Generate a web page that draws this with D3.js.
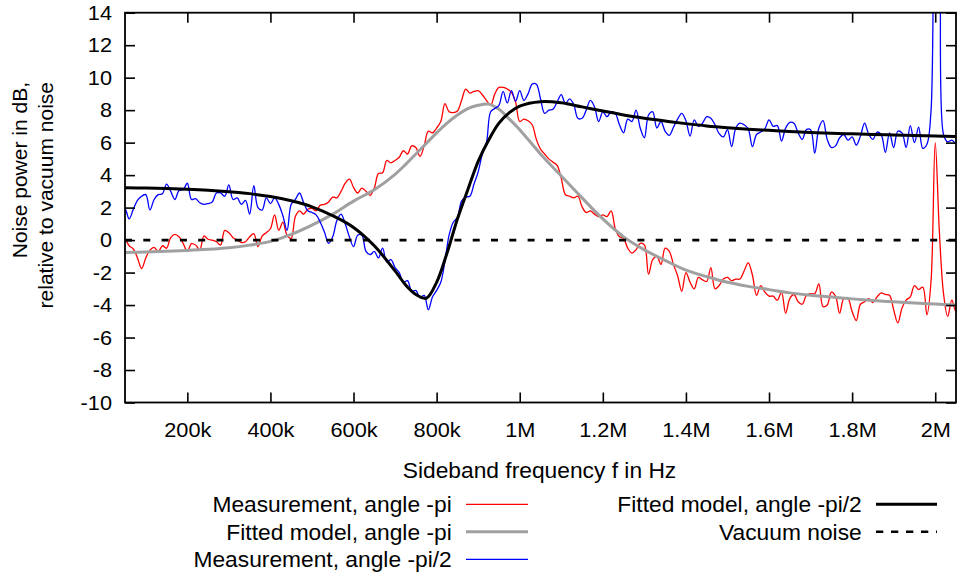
<!DOCTYPE html>
<html>
<head>
<meta charset="utf-8">
<script src="https://cdn.jsdelivr.net/npm/d3@7"></script>
<style>
  html, body { margin: 0; padding: 0; background: #fff; }
  svg { display: block; }
  text { font-family: "Liberation Sans", Arial, Helvetica, sans-serif; fill: #000; }
</style>
</head>
<body>
<svg id="chart" width="957" height="575"></svg>
<script>
// ---- Data -------------------------------------------------------------
// Measured traces are sampled on a uniform grid (kHz): 40k, 50k, ... 2060k
const measStartKHz = 40;
const measStepKHz = 10;

// Noise power (dB rel. vacuum), quadrature angle -pi
const redMeasured = [
  0.3, 0.1, -0.35, -0.55, -1.1, -1.75, -1.1, -0.62, -0.45, -0.72,
  -0.35, -0.5, 0.15, 0.35, 0.2, -0.2, -0.7, -0.22, -0.3, -0.6,
  0.25, 0.05, 0, -0.1, -0.3, 0.6, 0.45, 0.15, 0, -0.15,
  -0.1, 0.2, 0.4, -0.4, 0.25, 0.45, 0.7, 1.55, 0.6, 1.1,
  0.3, 0.1, 1.45, 1.8, 1.6, 1.9, 1.95, 1.8, 2.15, 2.2,
  2.35, 2.65, 2.6, 3.0, 3.5, 3.75, 3.25, 2.9, 3.2, 3.0,
  2.75, 3.2, 4.1, 4.15, 4.9, 4.75, 4.9, 5.1, 5.5, 5.3,
  5.8, 5.7, 5.15, 5.8, 6.7, 6.6, 6.9, 7.3, 8.4, 7.9,
  7.85, 7.95, 8.6, 9.3, 9.05, 9.15, 9.2, 8.95, 8.6, 8.3,
  9.0, 9.4, 9.4, 9.3, 9.1, 8.5, 7.3, 7.45, 7.35, 7.1,
  6.2, 5.6, 5.3, 5.0, 4.8, 4.6, 3.8, 2.8, 2.7, 2.6,
  2.7, 2.05, 1.7, 1.8, 1.6, 1.45, 1.55, 1.45, 1.8, 0.7,
  0.2, 0.1, -0.5, -0.8, -0.6, -0.2, -0.3, -2.1, -1.2, -1.0,
  -1.5, -0.5, -0.7, -1.5, -2.2, -3.15, -2.0, -2.6, -3.0, -2.3,
  -2.45, -2.55, -1.7, -3.0, -2.8, -2.4, -2.3, -2.5, -2.4, -2.4,
  -1.9, -1.4, -2.15, -3.4, -2.8, -3.2, -3.45, -3.45, -3.7, -3.2,
  -4.5, -3.6, -3.35, -3.8, -3.95, -3.4, -3.3, -3.3, -2.7, -4.1,
  -4.0, -3.2, -3.45, -4.5, -3.6, -3.6, -4.4, -4.95, -3.95, -3.8,
  -3.6, -3.85, -3.5, -3.25, -3.35, -3.4, -4.3, -5.1, -4.2, -3.7,
  -3.5, -2.8, -3.05, -2.9, -4.6, -2.5, 6.0, 0.5, -3.3, -4.7,
  -3.7, -4.4, -4.2
];

// Noise power (dB rel. vacuum), quadrature angle -pi/2
const blueMeasured = [
  1.7, 1.9, 1.3, 1.9, 2.45, 2.7, 2.8, 1.85, 2.5, 2.8,
  2.85, 3.45, 3.0, 2.5, 3.05, 3.1, 3.5, 2.5, 2.55, 2.3,
  2.2, 2.25, 2.35, 2.9, 2.9, 2.7, 3.4, 2.5, 2.6, 2.2,
  2.45, 1.6, 3.35, 2.0, 1.85, 2.6, 2.25, 2.6, 2.2, 1.5,
  0.6, 2.2, 2.5, 2.9, 2.3, 1.8, 1.7, 1.55, 1.1, 0.5,
  -0.2, 0.2, 1.2, 1.6, 1.0, 0.2, -0.4, 0.3, 0.3, -0.7,
  -0.9, -0.7, -1.1, -0.5, -1.35, -1.2, -1.7, -2.0, -2.6, -2.5,
  -3.15, -3.1, -3.55, -3.4, -4.3, -3.5, -3.1, -2.6, -1.3, 0.3,
  1.1, 1.4, 2.4, 2.65, 2.7, 3.45, 4.2, 5.3, 6.0, 7.9,
  8.1, 8.3, 9.15, 8.45, 9.2, 8.55, 9.2, 8.6, 9.0, 9.6,
  9.6, 8.7, 7.8, 8.0, 8.05, 8.5, 8.95, 8.4, 8.7, 8.35,
  7.5, 7.5, 8.0, 8.6, 8.2, 7.3, 7.9, 7.6, 7.9, 7.8,
  7.1, 6.6, 7.45, 7.3, 8.0, 6.9, 6.3, 7.7, 7.9, 6.9,
  7.3, 6.7, 6.45, 6.95, 7.45, 7.8, 7.35, 6.4, 7.4, 7.0,
  7.2, 7.6, 7.5, 7.1, 6.55, 6.35, 6.8, 5.75, 6.9, 7.2,
  7.1, 6.85, 5.75, 6.5, 6.65, 6.85, 7.4, 7.0, 7.05, 6.1,
  6.9, 7.25, 7.2, 6.6, 6.2, 6.8, 6.8, 5.35, 6.9, 7.35,
  6.2, 5.7, 5.8, 6.3, 6.5, 6.15, 6.35, 5.85, 6.4, 7.2,
  6.5, 6.2, 6.65, 6.5, 5.4, 6.6, 5.7, 6.7, 6.6, 5.7,
  7.05, 6.0, 6.95, 5.65, 5.9, 8.0, 20, 18, 6.5, 6.05,
  6.15, 5.95, 6.0
];

// Fitted model curves, sampled at these frequencies (kHz)
const fitFreqsKHz = [
  50, 100, 150, 200, 250, 300, 350, 400, 450, 500, 550, 600, 650, 700,
  725, 750, 775, 800, 825, 850, 875, 900, 925, 950, 975, 1000,
  1050, 1100, 1150, 1200, 1250, 1300, 1350, 1400, 1450, 1500, 1550,
  1600, 1650, 1700, 1750, 1800, 1850, 1900, 1950, 2000, 2050
];
const grayFit = [
  -0.76, -0.73, -0.69, -0.64, -0.57, -0.47, -0.31, -0.08, 0.35, 0.92, 1.6, 2.4, 3.1, 4.05,
  4.65, 5.3, 5.95, 6.6, 7.2, 7.7, 8.1, 8.3, 8.37, 8.05, 7.45, 6.8,
  5.3, 3.95, 2.6, 1.3, 0.2, -0.6, -1.25, -1.85, -2.25, -2.6, -2.85,
  -3.05, -3.25, -3.4, -3.5, -3.62, -3.72, -3.8, -3.88, -3.94, -4.0
];
const blackFit = [
  3.22, 3.2, 3.17, 3.13, 3.07, 2.98, 2.86, 2.68, 2.42, 2.05, 1.5, 0.78, -0.35, -1.9,
  -2.75, -3.35, -3.58, -2.6, -0.8, 1.3, 3.1, 4.85, 6.15, 7.2, 7.85, 8.25,
  8.52, 8.45, 8.2, 7.95, 7.7, 7.5, 7.33, 7.17, 7.03, 6.92, 6.83,
  6.76, 6.69, 6.63, 6.58, 6.54, 6.5, 6.47, 6.44, 6.41, 6.38
];

const xTickValues = [200e3, 400e3, 600e3, 800e3, 1e6, 1.2e6, 1.4e6, 1.6e6, 1.8e6, 2e6];
const yTickValues = [-10, -8, -6, -4, -2, 0, 2, 4, 6, 8, 10, 12, 14];
const xDomainHz = [50e3, 2050e3];
const yDomainDb = [-10, 14];

const legendLabels = [
  "Measurement, angle -pi",
  "Fitted model, angle -pi",
  "Measurement, angle -pi/2",
  "Fitted model, angle -pi/2",
  "Vacuum noise"
];
const xTitle = "Sideband frequency f in Hz";
const yTitleLines = ["Noise power in dB,", "relative to vacuum noise"];

// ---- Layout -----------------------------------------------------------
const plot = { left: 125, right: 956, top: 12.7, bottom: 402.5 };
const SX = 1.06;           // slight horizontal stretch of the lettering
const tickFont = 20.5, labelFont = 21.5;

const svg = d3.select("#chart");

const x = d3.scaleLinear().domain(xDomainHz).range([plot.left, plot.right]);
const y = d3.scaleLinear().domain(yDomainDb).range([plot.bottom, plot.top]);

svg.append("defs").append("clipPath").attr("id", "plotClip")
  .append("rect")
  .attr("x", plot.left).attr("y", plot.top)
  .attr("width", plot.right - plot.left).attr("height", plot.bottom - plot.top);

const measSeries = vals => vals.map((v, i) => ({ f: (measStartKHz + i * measStepKHz) * 1e3, v }));
const fitSeries = vals => vals.map((v, i) => ({ f: fitFreqsKHz[i] * 1e3, v }));

const line = d3.line()
  .x(d => x(d.f))
  .y(d => y(d.v))
  .curve(d3.curveCatmullRom.alpha(0.5));

const styles = [
  { color: "#ff0000", width: 1.3, dash: null },
  { color: "#a0a0a0", width: 3, dash: null },
  { color: "#0000ff", width: 1.3, dash: null },
  { color: "#000000", width: 3, dash: null },
  { color: "#000000", width: 2.6, dash: "7,11.3" }
];

const series = [
  measSeries(redMeasured),
  fitSeries(grayFit),
  measSeries(blueMeasured),
  fitSeries(blackFit)
];

const plotG = svg.append("g").attr("clip-path", "url(#plotClip)");

series.forEach((s, i) => {
  plotG.append("path")
    .datum(s)
    .attr("fill", "none")
    .attr("stroke", styles[i].color)
    .attr("stroke-width", styles[i].width)
    .attr("stroke-linejoin", "round")
    .attr("d", line);
});

// vacuum noise reference at 0 dB
plotG.append("line")
  .attr("x1", x(xDomainHz[0])).attr("x2", x(xDomainHz[1]))
  .attr("y1", y(0)).attr("y2", y(0))
  .attr("stroke", styles[4].color)
  .attr("stroke-width", styles[4].width)
  .attr("stroke-dasharray", styles[4].dash)
  .attr("stroke-dashoffset", 0);

// ---- Axes -------------------------------------------------------------
const fmtFreq = d => d >= 1e6 ? (d / 1e6) + "M" : (d / 1e3) + "k";
const fmtDb = d => String(d);   // plain hyphen-minus, as in the labels

function styleAxis(g) {
  g.select(".domain").remove();
  g.selectAll(".tick line").attr("stroke", "#000").attr("stroke-width", 1.6);
}

const xAxisB = svg.append("g")
  .attr("transform", `translate(0,${plot.bottom})`)
  .call(d3.axisBottom(x).tickValues(xTickValues).tickFormat(fmtFreq)
    .tickSizeInner(-10).tickSizeOuter(0).tickPadding(20));
styleAxis(xAxisB);
xAxisB.selectAll(".tick text")
  .attr("font-size", null).attr("font-family", null)
  .style("font-size", tickFont + "px")
  .attr("transform", `scale(${SX},1)`);

const xAxisT = svg.append("g")
  .attr("transform", `translate(0,${plot.top})`)
  .call(d3.axisTop(x).tickValues(xTickValues).tickFormat("")
    .tickSizeInner(-10).tickSizeOuter(0));
styleAxis(xAxisT);

const yAxisL = svg.append("g")
  .attr("transform", `translate(${plot.left},0)`)
  .call(d3.axisLeft(y).tickValues(yTickValues).tickFormat(fmtDb)
    .tickSizeInner(-10).tickSizeOuter(0).tickPadding(12.3));
styleAxis(yAxisL);
yAxisL.selectAll(".tick text")
  .attr("font-size", null).attr("font-family", null)
  .style("font-size", tickFont + "px")
  .attr("transform", `scale(${SX},1)`);

const yAxisR = svg.append("g")
  .attr("transform", `translate(${plot.right},0)`)
  .call(d3.axisRight(y).tickValues(yTickValues).tickFormat("")
    .tickSizeInner(-10).tickSizeOuter(0));
styleAxis(yAxisR);

// plot frame
svg.append("rect")
  .attr("x", plot.left).attr("y", plot.top)
  .attr("width", plot.right - plot.left).attr("height", plot.bottom - plot.top)
  .attr("fill", "none").attr("stroke", "#000").attr("stroke-width", 1.8);

// ---- Titles -----------------------------------------------------------
function addText(px, py, str, anchor, size) {
  return svg.append("text")
    .attr("transform", `translate(${px},${py}) scale(${SX},1)`)
    .attr("text-anchor", anchor)
    .style("font-size", size + "px")
    .text(str);
}

addText(539.5, 478, xTitle, "middle", labelFont);

yTitleLines.forEach((t, i) => {
  svg.append("text")
    .attr("transform", `translate(${26.7 + i * 26.6},82) rotate(-90)`)
    .attr("text-anchor", "end")
    .style("font-size", "21px")
    .text(t);
});

// ---- Legend -----------------------------------------------------------
const legendSlots = [
  { tx: 451.7, x1: 466, x2: 528, ly: 504.3 },
  { tx: 451.7, x1: 466, x2: 528, ly: 531.8 },
  { tx: 451.7, x1: 466, x2: 528, ly: 559.3 },
  { tx: 861.7, x1: 876, x2: 937, ly: 504.3 },
  { tx: 861.7, x1: 876, x2: 937, ly: 531.8 }
];

legendLabels.forEach((lab, i) => {
  const s = legendSlots[i];
  addText(s.tx, s.ly + 7.8, lab, "end", labelFont);
  svg.append("line")
    .attr("x1", s.x1).attr("x2", s.x2)
    .attr("y1", s.ly).attr("y2", s.ly)
    .attr("stroke", styles[i].color)
    .attr("stroke-width", styles[i].width)
    .attr("stroke-dasharray", i === 4 ? "7.3,7.7" : null);
});
</script>
</body>
</html>
